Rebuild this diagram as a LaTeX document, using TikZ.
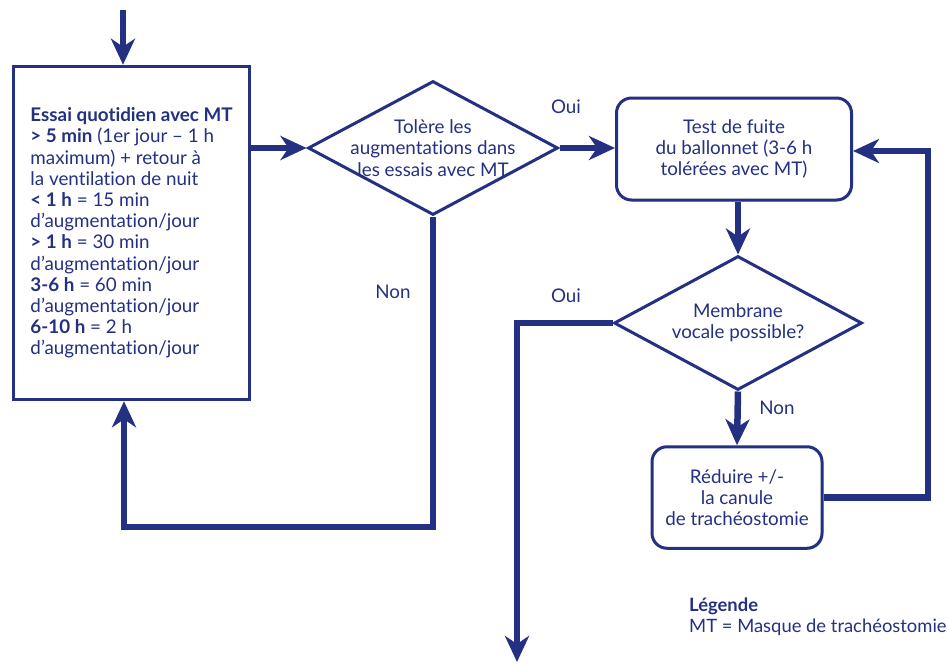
\documentclass[tikz,border=0pt]{standalone}
\usepackage{fontspec}
\setmainfont{Lato}[Ligatures={TeX,NoCommon}]
\usetikzlibrary{arrows.meta,shapes.geometric,shadows}
\definecolor{navy}{RGB}{36,48,130}

\begin{document}
\begin{tikzpicture}[x=1pt,y=-1pt,
  every node/.style={text=navy, font=\fontsize{18.8}{21.2}\selectfont},
  frame/.style={draw=navy, line width=3pt, fill=white, inner sep=0pt},
  softshadow/.style={drop shadow={shadow xshift=1.5pt, shadow yshift=-1.5pt, opacity=0.22}},
  squarebox/.style={frame, rectangle, softshadow},
  roundbox/.style={frame, rectangle, rounded corners=15pt, softshadow},
  decision/.style={frame, diamond},
  caption/.style={align=center, inner sep=0pt},
  flow/.style={draw=navy, line width=6.5pt, -{Stealth[length=26pt,width=24pt,inset=8pt]}}]

  \useasboundingbox (0,0) rectangle (948,665);

  % daily trial box
  \node[squarebox, minimum width=236pt, minimum height=333.5pt] (box1) at (131.5,233) {};
  \node[align=left, inner sep=0pt] at (box1) {%
    \textbf{Essai quotidien avec MT}\\
    \textbf{> 5 min} (1er jour – 1 h\\
    maximum) + retour à\\
    la ventilation de nuit\\
    \textbf{< 1 h} = 15 min\\
    d’augmentation/jour\\
    \textbf{> 1 h} = 30 min\\
    d’augmentation/jour\\
    \textbf{3-6 h} = 60 min\\
    d’augmentation/jour\\
    \textbf{6-10 h} = 2 h\\
    d’augmentation/jour};

  % first decision
  \node[decision, minimum width=250pt, minimum height=134pt] (d1) at (433,148) {};
  \node[caption] at (d1) {Tolère les\\augmentations dans\\les essais avec MT};

  % cuff leak test
  \node[roundbox, minimum width=235pt, minimum height=102pt] (box2) at (734,149) {};
  \node[caption] at (box2) {Test de fuite\\du ballonnet (3-6 h\\tolérées avec MT)};

  % second decision
  \node[decision, minimum width=248pt, minimum height=134pt] (d2) at (738,323) {};
  \node[caption] at (d2) {Membrane\\vocale possible?};

  % reduce cannula
  \node[roundbox, minimum width=170pt, minimum height=101.5pt] (box3) at (737,497.5) {};
  \node[caption] at (box3) {Réduire +/-\\la canule\\de trachéostomie};

  % free ends and bends
  \coordinate (entry) at (123,10);
  \coordinate (exit) at (517,662);
  \coordinate (loopB) at (124,527);
  \coordinate (loopR) at (928,151);

  % connectors
  \draw[flow] (entry) -- (entry |- box1.north);
  \draw[flow] (box1.east |- d1) -- (d1.west);
  \draw[flow] (d1.east) -- (d1.east -| box2.west);
  \draw[flow] (d1.south) |- (loopB) -- (loopB |- box1.south);
  \draw[flow] (box2.south -| d2) -- (d2.north);
  \draw[flow] (d2.west) -| (exit);
  \draw[flow] (d2.south) -- (box3.north);
  \draw[flow] (box3.east) -| (loopR) -- (loopR -| box2.east);

  % branch labels
  \node[inner sep=0pt] (oui1) at (566,107) {Oui};
  \node[inner sep=0pt] (non1) at (393,292) {Non};
  \node[inner sep=0pt] (oui2) at (566,296) {Oui};
  \node[inner sep=0pt] (non2) at (777,408) {Non};

  % legend
  \node[align=left, inner sep=0pt, anchor=west, font=\fontsize{18.4}{21}\selectfont] (legend) at (689,616.5)
    {\textbf{Légende}\\MT = Masque de trachéostomie};
\end{tikzpicture}
\end{document}
